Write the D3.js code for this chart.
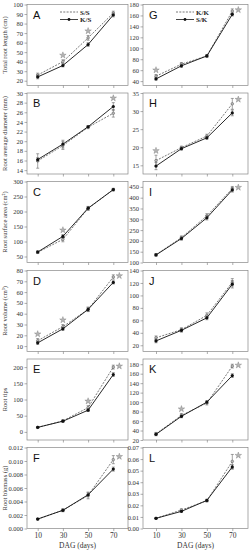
<!DOCTYPE html>
<html>
<head>
<meta charset="utf-8">
<script src="https://cdn.jsdelivr.net/npm/d3@7"></script>
<style>
body { margin: 0; background: #fff; }
svg { display: block; }
.tick text { font-family: "Liberation Serif", "Times New Roman", serif; font-size: 6.5px; fill: #333; }
.tick line { stroke: #777; stroke-width: 0.6; }
</style>
</head>
<body>
<svg id="chart" width="249" height="550"></svg>
<script>
const days = [10, 30, 50, 70];

// left column: S/S (dashed) vs K/S (solid)
const aSS = [26, 40, 65, 91],  aKS = [24, 36, 58, 89];
const aSSErr = [2, 2, 2.5, 2], aKSErr = [2, 1.5, 2, 2];
const aStars = [30, 50];
const aTicks = [20, 30, 40, 50, 60, 70, 80, 90, 100];

const bSS = [15.9, 19.1, 22.9, 25.8], bKS = [16.2, 19.4, 23.0, 27.2];
const bSSErr = [1.5, 0.8, 0.3, 0.8], bKSErr = [0.4, 0.8, 0.2, 0.8];
const bStars = [70];
const bTicks = [14, 16, 18, 20, 22, 24, 26, 28, 30];

const cSS = [64, 107, 210, 273], cKS = [65, 117, 211, 273];
const cSSErr = [4, 8, 6, 4], cKSErr = [4, 6, 6, 4];
const cStars = [30];
const cTicks = [50, 100, 150, 200, 250, 300];

const dSS = [15, 28, 44, 74], dKS = [13, 26, 44, 69];
const dSSErr = [2, 2, 2, 2], dKSErr = [1.5, 1.5, 2, 1.5];
const dStars = [10, 30, 70];
const dTicks = [10, 20, 30, 40, 50, 60, 70, 80];

const eSS = [14, 34, 75, 200], eKS = [14, 33, 67, 177];
const eSSErr = [2, 3, 6, 6], eKSErr = [2, 3, 4, 6];
const eStars = [50, 70];
const eTicks = [0, 50, 100, 150, 200];

const fSS = [0.0014, 0.0027, 0.0049, 0.0102], fKS = [0.0014, 0.0027, 0.0050, 0.0088];
const fSSErr = [0.0001, 0.0002, 0.0005, 0.0006], fKSErr = [0.0001, 0.0002, 0.0003, 0.0003];
const fStars = [70];
const fTicks = [0, 0.002, 0.004, 0.006, 0.008, 0.010, 0.012];

// right column: K/K (dashed) vs S/K (solid)
const gKK = [49, 71, 86, 168], gSK = [44, 68, 86, 162];
const gKKErr = [3, 3, 2, 4], gSKErr = [2, 3, 2, 3];
const gStars = [10, 70];
const gTicks = [40, 60, 80, 100, 120, 140, 160, 180];

const hKK = [16.3, 19.9, 23.1, 32.0], hSK = [14.8, 19.6, 22.6, 29.5];
const hKKErr = [1.5, 0.4, 0.5, 1.5], hSKErr = [1, 0.4, 0.4, 0.8];
const hStars = [10, 70];
const hTicks = [15, 20, 25, 30, 35];

const iKK = [136, 215, 316, 442], iSK = [135, 211, 307, 436];
const iKKErr = [5, 8, 10, 10], iSKErr = [5, 8, 10, 10];
const iStars = [70];
const iTicks = [100, 150, 200, 250, 300, 350, 400, 450];

const jKK = [32, 45, 68, 121], jSK = [27, 44, 64, 118];
const jKKErr = [3, 3, 4, 6], jSKErr = [3, 3, 3, 6];
const jStars = [];
const jTicks = [20, 40, 60, 80, 100, 120, 140];

const kKK = [33, 72, 98, 176], kSK = [32, 70, 100, 156];
const kKKErr = [3, 4, 4, 4], kSKErr = [3, 3, 3, 4];
const kStars = [30, 70];
const kTicks = [20, 40, 60, 80, 100, 120, 140, 160, 180];

const lKK = [0.0088, 0.016, 0.024, 0.058], lSK = [0.0088, 0.0148, 0.0243, 0.0532];
const lKKErr = [0.0005, 0.001, 0.001, 0.006], lSKErr = [0.0005, 0.0008, 0.001, 0.002];
const lStars = [70];
const lTicks = [0, 0.01, 0.02, 0.03, 0.04, 0.05, 0.06, 0.07];

const leftTitles = ["Total root length (cm)", "Root average diameter (mm)", "Root surface area (cm\u00b2)",
                    "Root volume (cm\u00b3)", "Root tips", "Root biomass (g)"];

// layout
const panelTops = [4.5, 93, 181.5, 270.5, 359, 447.5];
const panelH = 81;
const cols = [
    {x0: 27, x1: 128, t10: 37.7, t70: 113.3},
    {x0: 143, x1: 248, t10: 156, t70: 232.3}
];

const panels = [
    {col: 0, row: 0, id: "A", dash: aSS, solid: aKS, dErr: aSSErr, sErr: aKSErr, stars: aStars, ticks: aTicks, dom: [15, 100], fmt: "d", legend: ["S/S", "K/S"]},
    {col: 0, row: 1, id: "B", dash: bSS, solid: bKS, dErr: bSSErr, sErr: bKSErr, stars: bStars, ticks: bTicks, dom: [13.2, 30], fmt: "d"},
    {col: 0, row: 2, id: "C", dash: cSS, solid: cKS, dErr: cSSErr, sErr: cKSErr, stars: cStars, ticks: cTicks, dom: [30, 300], fmt: "d"},
    {col: 0, row: 3, id: "D", dash: dSS, solid: dKS, dErr: dSSErr, sErr: dKSErr, stars: dStars, ticks: dTicks, dom: [5, 80], fmt: "d"},
    {col: 0, row: 4, id: "E", dash: eSS, solid: eKS, dErr: eSSErr, sErr: eKSErr, stars: eStars, ticks: eTicks, dom: [-25, 225], fmt: "d"},
    {col: 0, row: 5, id: "F", dash: fSS, solid: fKS, dErr: fSSErr, sErr: fKSErr, stars: fStars, ticks: fTicks, dom: [0, 0.012], fmt: ".3f"},
    {col: 1, row: 0, id: "G", dash: gKK, solid: gSK, dErr: gKKErr, sErr: gSKErr, stars: gStars, ticks: gTicks, dom: [32, 180], fmt: "d", legend: ["K/K", "S/K"]},
    {col: 1, row: 1, id: "H", dash: hKK, solid: hSK, dErr: hKKErr, sErr: hSKErr, stars: hStars, ticks: hTicks, dom: [12.6, 35], fmt: "d"},
    {col: 1, row: 2, id: "I", dash: iKK, solid: iSK, dErr: iKKErr, sErr: iSKErr, stars: iStars, ticks: iTicks, dom: [100, 475], fmt: "d"},
    {col: 1, row: 3, id: "J", dash: jKK, solid: jSK, dErr: jKKErr, sErr: jSKErr, stars: jStars, ticks: jTicks, dom: [10, 140], fmt: "d"},
    {col: 1, row: 4, id: "K", dash: kKK, solid: kSK, dErr: kKKErr, sErr: kSKErr, stars: kStars, ticks: kTicks, dom: [20, 191], fmt: "d"},
    {col: 1, row: 5, id: "L", dash: lKK, solid: lSK, dErr: lKKErr, sErr: lSKErr, stars: lStars, ticks: lTicks, dom: [0, 0.07], fmt: ".2f"}
];

const svg = d3.select("#chart");
const serif = "'Liberation Serif', 'Times New Roman', serif";
const sans = "'Liberation Sans', Arial, sans-serif";

function drawPanel(p) {
    let c = cols[p.col];
    let top = panelTops[p.row];
    let bottom = top + panelH;
    let x = d3.scaleLinear().domain([10, 70]).range([c.t10, c.t70]);
    let y = d3.scaleLinear().domain(p.dom).range([bottom, top]);
    let g = svg.append("g");

    // frame
    g.append("rect")
        .attr("x", c.x0).attr("y", top)
        .attr("width", c.x1 - c.x0).attr("height", panelH)
        .attr("fill", "none").attr("stroke", "#888").attr("stroke-width", 0.7);

    let yAxis = g.append("g")
        .attr("transform", `translate(${c.x0},0)`)
        .call(d3.axisLeft(y).tickValues(p.ticks).tickSize(2.5).tickPadding(1.5).tickFormat(d3.format(p.fmt)));
    yAxis.select(".domain").remove();

    let xAxis = g.append("g")
        .attr("transform", `translate(0,${bottom})`)
        .call(d3.axisBottom(x).tickValues(days).tickSize(2.5).tickPadding(1.5).tickFormat(d3.format("d")));
    xAxis.select(".domain").remove();
    if (p.row < 5) {
        xAxis.selectAll("text").remove();
    } else {
        xAxis.selectAll("text").style("font-size", "7.5px");
        g.append("text")
            .attr("x", (c.x0 + c.x1) / 2).attr("y", 547.5)
            .attr("text-anchor", "middle")
            .style("font-family", serif).style("font-size", "7.5px").attr("fill", "#333")
            .text("DAG (days)");
    }

    // panel letter
    g.append("text")
        .attr("x", c.x0 + 6).attr("y", top + 14)
        .style("font-family", sans).style("font-size", "11px").attr("fill", "#111")
        .text(p.id);

    if (p.col == 0) {
        g.append("text")
            .attr("transform", `translate(7,${top + panelH / 2}) rotate(-90)`)
            .attr("text-anchor", "middle")
            .style("font-family", serif).style("font-size", "6.5px").attr("fill", "#333")
            .text(leftTitles[p.row]);
    }

    let series = [
        {vals: p.dash, err: p.dErr, dashed: true},
        {vals: p.solid, err: p.sErr, dashed: false}
    ];

    let line = d3.line().x((d, i) => x(days[i])).y(d => y(d));

    for (let s of series) {
        // error bars
        for (let i = 0; i < days.length; i++) {
            let xi = x(days[i]);
            let lo = y(s.vals[i] - s.err[i]), hi = y(s.vals[i] + s.err[i]);
            g.append("line").attr("x1", xi).attr("x2", xi).attr("y1", lo).attr("y2", hi)
                .attr("stroke", "#666").attr("stroke-width", 0.6);
            for (let yy of [lo, hi]) {
                g.append("line").attr("x1", xi - 1.5).attr("x2", xi + 1.5).attr("y1", yy).attr("y2", yy)
                    .attr("stroke", "#666").attr("stroke-width", 0.6);
            }
        }
        g.append("path")
            .attr("d", line(s.vals))
            .attr("fill", "none")
            .attr("stroke", s.dashed ? "#555" : "#111")
            .attr("stroke-width", s.dashed ? 0.8 : 0.9)
            .attr("stroke-dasharray", s.dashed ? "2,1.3" : null);
        g.selectAll(null).data(s.vals).enter().append("circle")
            .attr("cx", (d, i) => x(days[i]))
            .attr("cy", d => y(d))
            .attr("r", s.dashed ? 1.3 : 1.6)
            .attr("fill", s.dashed ? "#bbb" : "#111")
            .attr("stroke", s.dashed ? "#555" : "none")
            .attr("stroke-width", 0.5);
    }

    // significance stars
    let star = d3.symbol().type(d3.symbolStar).size(13);
    for (let day of p.stars) {
        let i = days.indexOf(day);
        let hiVal = Math.max(p.dash[i] + p.dErr[i], p.solid[i] + p.sErr[i]);
        let sx = x(day), sy = y(hiVal) - 4.5;
        if (sy < top + 5) {
            sx = x(day) + 6;
            sy = y(hiVal) + 1;
        }
        g.append("path")
            .attr("transform", `translate(${sx},${sy})`)
            .attr("d", star())
            .attr("fill", "#b5b5b5").attr("stroke", "#777").attr("stroke-width", 0.4);
    }

    if (p.legend) {
        let lx = c.x0 + 33;
        let rows = [{dashed: true, y: top + 7.5}, {dashed: false, y: top + 15}];
        rows.forEach((r, k) => {
            g.append("line").attr("x1", lx).attr("x2", lx + 18).attr("y1", r.y).attr("y2", r.y)
                .attr("stroke", r.dashed ? "#555" : "#111")
                .attr("stroke-width", 0.8)
                .attr("stroke-dasharray", r.dashed ? "2,1.3" : null);
            if (!r.dashed) {
                g.append("circle").attr("cx", lx + 9).attr("cy", r.y).attr("r", 1.4).attr("fill", "#111");
            }
            g.append("text").attr("x", lx + 20).attr("y", r.y + 2.5)
                .style("font-family", serif).style("font-size", "7px").style("font-weight", "bold").attr("fill", "#222")
                .text(p.legend[k]);
        });
    }
}

for (let p of panels) {
    drawPanel(p);
}
</script>
</body>
</html>
